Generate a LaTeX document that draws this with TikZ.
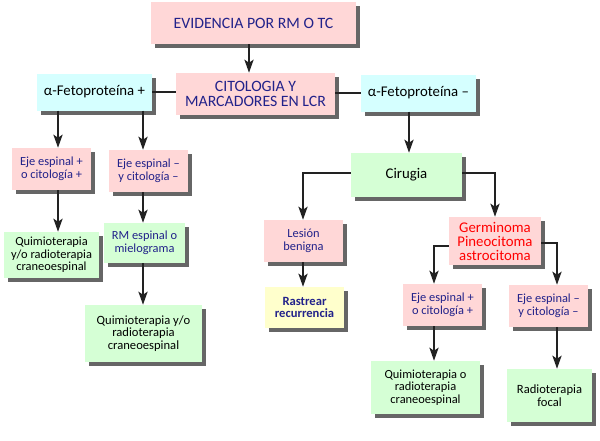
\documentclass[tikz,border=0pt]{standalone}
\usepackage{fontspec}
\setmainfont{Carlito}
\usetikzlibrary{shadows,arrows.meta}
\definecolor{pinkbox}{HTML}{FFD7D7}
\definecolor{cyanbox}{HTML}{D5FFFF}
\definecolor{greenbox}{HTML}{D5FFD5}
\definecolor{yellowbox}{HTML}{FFFFCC}
\definecolor{navytext}{HTML}{22228A}
\definecolor{linecol}{HTML}{222222}
\definecolor{redtext}{HTML}{FF0000}
\tikzset{
  box/.style={rectangle, inner sep=1pt, align=center,
    drop shadow={shadow xshift=4pt, shadow yshift=-4pt, fill=black!60, opacity=1}},
  pinkb/.style={box, fill=pinkbox},
  cyanb/.style={box, fill=cyanbox},
  greenb/.style={box, fill=greenbox},
  yellowb/.style={box, fill=yellowbox},
  big/.style={font=\fontsize{15.8}{15.5}\selectfont},
  mid/.style={font=\fontsize{14.8}{14}\selectfont},
  small/.style={font=\fontsize{12.4}{12.5}\selectfont},
  qsize/.style={font=\fontsize{12.6}{12.5}\selectfont},
  conn/.style={line width=2.5pt, draw=linecol},
  arr/.style={conn, -{Stealth[width=9pt,length=13pt,inset=3pt]}},
}
\begin{document}
\begin{tikzpicture}[x=1pt,y=-1pt]
\useasboundingbox[fill=white] (0,0) rectangle (600,440);
% column coordinates
\coordinate (cH) at (249,0);
\coordinate (cA) at (58,0);
\coordinate (cB) at (143,0);
\coordinate (cC) at (303,0);
\coordinate (cD) at (409,0);
\coordinate (cE) at (495,0);
\coordinate (cF) at (434,0);
\coordinate (cG) at (557,0);
% nodes
\node[pinkb, big, text=navytext, minimum width=205pt, minimum height=42pt] (ev) at (253.5,23) {EVIDENCIA POR RM O TC};
\node[pinkb, big, text=navytext, minimum width=159pt, minimum height=42pt] (cit) at (255.5,94) {CITOLOGIA Y\\MARCADORES EN LCR};
\node[cyanb, mid, text=black, minimum width=115pt, minimum height=37pt] (ap) at (94.5,92) {α-Fetoproteína +};
\node[cyanb, mid, text=black, minimum width=115pt, minimum height=37pt] (am) at (418.5,93) {α-Fetoproteína –};
\node[pinkb, small, text=navytext, minimum width=79pt, minimum height=42pt] (e1) at (51.5,169) {Eje espinal +\\o citología +};
\node[pinkb, small, text=navytext, minimum width=79pt, minimum height=42pt] (e2) at (148.5,171) {Eje espinal –\\y citología –};
\node[greenb, small, text=black, minimum width=95pt, minimum height=46pt] (q1) at (51.5,255) {Quimioterapia\\y/o radioterapia\\craneoespinal};
\node[greenb, small, text=navytext, minimum width=81pt, minimum height=40pt] (rm) at (144.5,243) {RM espinal o\\mielograma};
\node[greenb, qsize, text=black, minimum width=117pt, minimum height=57pt] (q2) at (143.5,333.5) {Quimioterapia y/o\\radioterapia\\craneoespinal};
\node[greenb, mid, text=black, minimum width=111pt, minimum height=44pt] (cir) at (406.5,175) {Cirugia};
\node[pinkb, small, text=navytext, minimum width=79pt, minimum height=42pt] (les) at (303.5,241) {Lesión\\benigna};
\node[yellowb, qsize, text=navytext, minimum width=79pt, minimum height=41pt] (ras) at (304.5,307.5) {\bfseries Rastrear\\\bfseries recurrencia};
\node[pinkb, mid, text=redtext, minimum width=92pt, minimum height=48pt] (ger) at (495,241) {Germinoma\\Pineocitoma\\astrocitoma};
\node[pinkb, small, text=navytext, minimum width=79pt, minimum height=42pt] (e3) at (442.5,305) {Eje espinal +\\o citología +};
\node[pinkb, small, text=navytext, minimum width=79pt, minimum height=42pt] (e4) at (548.5,306) {Eje espinal –\\y citología –};
\node[greenb, small, text=black, minimum width=109pt, minimum height=53pt] (q3) at (425.5,387.5) {Quimioterapia o\\radioterapia\\craneoespinal};
\node[greenb, qsize, text=black, minimum width=85pt, minimum height=53pt] (rf) at (549.5,395.5) {Radioterapia\\focal};
% connectors
\draw[arr] (ev.south -| cH) -- (cit.north -| cH);
\draw[conn] (ap.east) -- (ap.east -| cit.west);
\draw[conn] (cit.east |- am.west) -- (am.west);
\draw[arr] (ap.south -| cA) -- (e1.north -| cA);
\draw[arr] (ap.south -| cB) -- (e2.north -| cB);
\draw[arr] (e1.south -| cA) -- (q1.north -| cA);
\draw[arr] (e2.south -| cB) -- (rm.north -| cB);
\draw[arr] (rm.south -| cB) -- (q2.north -| cB);
\draw[arr] (am.south -| cD) -- (cir.north -| cD);
\draw[arr] ([yshift=2pt]cir.west) -| (cC |- les.north);
\draw[arr] ([yshift=2pt]cir.east) -| (cE |- ger.north);
\draw[arr] (les.south -| cC) -- (ras.north -| cC);
\draw[arr] ([yshift=-5pt]ger.west) -| (cF |- e3.north);
\draw[arr] ([yshift=-2pt]ger.east) -| (cG |- e4.north);
\draw[arr] (e3.south -| cF) -- (q3.north -| cF);
\draw[arr] (e4.south -| cG) -- (rf.north -| cG);
\end{tikzpicture}
\end{document}
